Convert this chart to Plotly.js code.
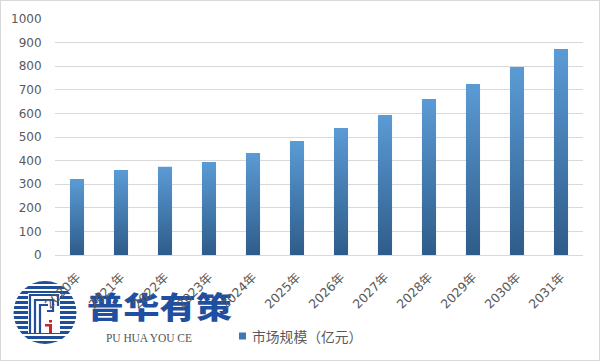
<!DOCTYPE html>
<html>
<head>
<meta charset="utf-8">
<script src="https://cdn.plot.ly/plotly-3.0.1.min.js"></script>
<style>
html,body{margin:0;padding:0;background:#fff;}
#wrap{position:relative;width:601px;height:361px;overflow:hidden;background:#fff;}
#chart{position:absolute;left:0;top:0;width:601px;height:361px;}
#frame{position:absolute;left:0;top:0;width:600px;height:361px;box-sizing:border-box;border:1px solid #d9d9d9;pointer-events:none;}
#logo{position:absolute;left:0;top:0;pointer-events:none;}
</style>
</head>
<body>
<div id="wrap">
<svg id="logo" width="601" height="361">
  <defs>
    <clipPath id="circClip"><circle cx="45" cy="312.5" r="31.5"/></clipPath>
  </defs>
  <g clip-path="url(#circClip)" fill="#1F4E9A">
    <rect x="10" y="281" width="70" height="3"/>
    <rect x="10" y="286" width="70" height="3"/>
    <rect x="10" y="291" width="70" height="3"/>
    <rect x="10" y="296" width="70" height="3"/>
    <rect x="10" y="301" width="70" height="3"/>
    <rect x="10" y="306" width="70" height="3"/>
    <rect x="10" y="311" width="70" height="3"/>
    <rect x="10" y="316" width="70" height="3"/>
    <rect x="10" y="321" width="70" height="3"/>
    <rect x="10" y="326" width="70" height="3"/>
    <rect x="10" y="331" width="70" height="3"/>
    <rect x="10" y="336" width="70" height="3"/>
    <rect x="10" y="341" width="70" height="3"/>
  </g>
  <rect x="28" y="293" width="32" height="40" fill="#fff"/>
  <g fill="none" stroke="#1F4E9A" stroke-width="2.2">
    <path d="M30,334 V295 H58 V306"/>
    <path d="M35,334 V300 H53 V311 H47"/>
    <path d="M40,334 V305 H48"/>
  </g>
  <g fill="#C0282D">
    <rect x="49" y="320" width="3" height="2.5"/>
    <rect x="45" y="324" width="7" height="2.5"/>
    <rect x="49" y="324" width="3" height="9"/>
  </g>
  <text x="0" y="0" transform="translate(87,318) scale(1,0.8)" font-family="Noto Sans CJK SC" font-weight="900" font-size="36.5" fill="#1F4FA0" textLength="145" lengthAdjust="spacingAndGlyphs">普华有策</text>
  <text x="106" y="342" font-family="Liberation Serif" font-size="11.5" fill="#555" textLength="86" lengthAdjust="spacing">PU HUA YOU CE</text>
</svg>
<div id="chart"></div>
<div id="frame"></div>
</div>
<script>
var years = ["2020年","2021年","2022年","2023年","2024年","2025年","2026年","2027年","2028年","2029年","2030年","2031年"];
var marketSize = [322, 360, 374, 394, 432, 483, 538, 593, 661, 725, 797, 873];
var seriesName = "市场规模（亿元）";
var yTicks = [0,100,200,300,400,500,600,700,800,900,1000];

var trace = {
  type: "bar",
  x: years,
  y: marketSize,
  name: seriesName,
  marker: {color: "#4A86C5", line: {width: 0}},
  hoverinfo: "x+y"
};

var layout = {
  width: 601, height: 361,
  margin: {l: 55, r: 18, t: 19, b: 106, pad: 0},
  paper_bgcolor: "rgba(0,0,0,0)",
  plot_bgcolor: "rgba(0,0,0,0)",
  bargap: 0.68,
  showlegend: false,
  font: {family: "DejaVu Sans, Noto Sans CJK SC, sans-serif", color: "#595959", size: 12},
  xaxis: {
    type: "category",
    tickangle: -45,
    tickfont: {size: 12.5, color: "#595959", family: "DejaVu Sans, Noto Sans CJK SC, sans-serif"},
    showgrid: false,
    showline: true, linecolor: "#d9d9d9", linewidth: 1,
    ticks: "", ticklen: 0,
    ticklabelstandoff: 9
  },
  yaxis: {
    range: [0, 1000],
    tickvals: yTicks,
    ticktext: yTicks.map(String),
    tickfont: {size: 12, color: "#595959"},
    showgrid: true, gridcolor: "#d9d9d9", gridwidth: 1,
    zeroline: false, showline: false,
    ticks: "outside", ticklen: 10, tickcolor: "rgba(0,0,0,0)"
  },
  shapes: [{
    type: "rect", xref: "paper", yref: "paper",
    x0: (239-55)/528, x1: (246-55)/528,
    y0: (255-339.5)/236, y1: (255-332.5)/236,
    fillcolor: "#3F78B5", line: {width: 0}
  }],
  annotations: [{
    xref: "paper", yref: "paper",
    x: (250-55)/528, y: (255-336)/236,
    xanchor: "left", yanchor: "middle",
    text: seriesName, showarrow: false,
    font: {family: "Noto Sans CJK SC, sans-serif", size: 13.8, color: "#595959"}
  }]
};

Plotly.newPlot("chart", [trace], layout, {displayModeBar: false, staticPlot: true}).then(function(gd){
  var svg = gd.querySelector("svg.main-svg");
  var ns = "http://www.w3.org/2000/svg";
  var defs = svg.querySelector("defs") || svg.insertBefore(document.createElementNS(ns, "defs"), svg.firstChild);
  var lg = document.createElementNS(ns, "linearGradient");
  lg.setAttribute("id", "barGrad");
  lg.setAttribute("x1", "0"); lg.setAttribute("y1", "0");
  lg.setAttribute("x2", "0"); lg.setAttribute("y2", "1");
  [["0", "#5B9BD5"], ["1", "#2E5C8A"]].forEach(function(s){
    var st = document.createElementNS(ns, "stop");
    st.setAttribute("offset", s[0]); st.setAttribute("stop-color", s[1]);
    lg.appendChild(st);
  });
  defs.appendChild(lg);
  gd.querySelectorAll(".bars .point path").forEach(function(p){
    p.style.fill = "url(#barGrad)";
  });
});
</script>
</body>
</html>
